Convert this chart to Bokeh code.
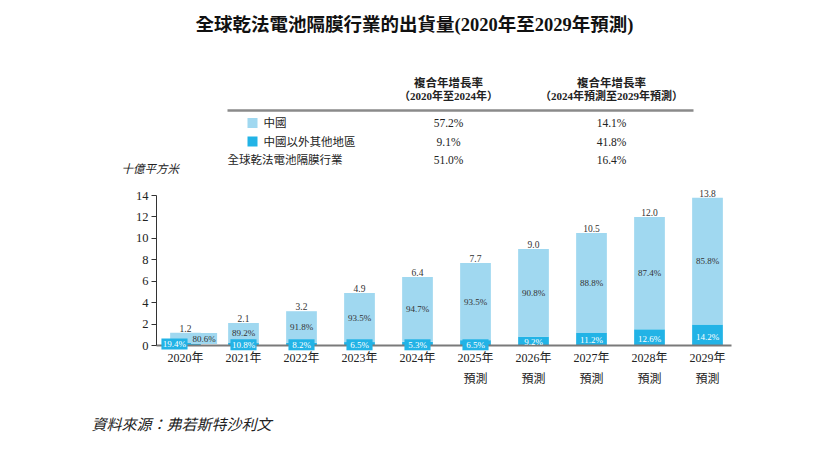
from bokeh.plotting import figure
from bokeh.models import ColumnDataSource, Range1d, Label, FixedTicker
from bokeh.core.properties import value
from bokeh.embed import file_html
from bokeh.resources import INLINE

# ---------------- data ----------------
years = ["2020年", "2021年", "2022年", "2023年", "2024年",
         "2025年", "2026年", "2027年", "2028年", "2029年"]
forecast_flag = [False, False, False, False, False, True, True, True, True, True]
totals = [1.2, 2.1, 3.2, 4.9, 6.4, 7.7, 9.0, 10.5, 12.0, 13.8]
china_share = [80.6, 89.2, 91.8, 93.5, 94.7, 93.5, 90.8, 88.8, 87.4, 85.8]
other_share = [19.4, 10.8, 8.2, 6.5, 5.3, 6.5, 9.2, 11.2, 12.6, 14.2]
y_ticks = [0, 2, 4, 6, 8, 10, 12, 14]

title_text = "全球乾法電池隔膜行業的出貨量(2020年至2029年預測)"
cagr_header = ["複合年增長率", "複合年增長率"]
cagr_period = ["（2020年至2024年）", "（2024年預測至2029年預測）"]
row_names = ["中國", "中國以外其他地區", "全球乾法電池隔膜行業"]
cagr_col1 = ["57.2%", "9.1%", "51.0%"]
cagr_col2 = ["14.1%", "41.8%", "16.4%"]
y_title = "十億平方米"
source_text = "資料來源：弗若斯特沙利文"
forecast_word = "預測"

LIGHT = "#a0d8f0"
DARK = "#22b3e6"
TXT = "#333333"
SERIF = "Liberation Serif, Noto Sans CJK TC"

# ---------------- geometry helpers (picture pixels -> data) ----------------
W, H = 815, 445
LEFT = 60
PX_X = 58.0            # pixels per category
PX_Y = 150.0 / 14.0    # pixels per unit
ORIGIN_X = 156.0       # pixel x of x = -0.5
ORIGIN_Y = 345.0       # pixel y of y = 0


def dx(px):
    return (px - ORIGIN_X) / PX_X - 0.5


def dy(py):
    return (ORIGIN_Y - py) / PX_Y


p = figure(width=W, height=H, output_backend="svg", toolbar_location=None,
           x_range=Range1d(dx(LEFT), dx(W)), y_range=Range1d(dy(H), dy(0)),
           min_border_left=LEFT, min_border_right=0, min_border_top=0,
           min_border_bottom=0, title=None)
p.outline_line_color = None
p.xgrid.visible = False
p.ygrid.visible = False
p.xaxis.visible = False
p.background_fill_color = "white"
p.border_fill_color = "white"

yax = p.yaxis[0]
yax.fixed_location = -0.5
yax.ticker = FixedTicker(ticks=y_ticks)
yax.bounds = (0, 14)
yax.axis_line_color = "#333333"
yax.axis_line_width = 1
yax.major_tick_line_color = "#333333"
yax.major_tick_out = 5
yax.major_tick_in = 0
yax.minor_tick_line_color = None
yax.major_label_text_font = SERIF
yax.major_label_text_font_size = "12.5px"
yax.major_label_text_color = "#222222"
yax.major_label_standoff = 3

# ---------------- bars ----------------
idx = list(range(len(years)))
other_vals = [t * s / 100.0 for t, s in zip(totals, other_share)]
src = ColumnDataSource(dict(x=idx, total=totals, other=other_vals,
                            total_txt=[f"{t:.1f}" for t in totals]))
BAR_W = 0.53
p.vbar(x="x", bottom=0, top="other", width=BAR_W, source=src,
       fill_color=DARK, line_color=None)
p.vbar(x="x", bottom="other", top="total", width=BAR_W, source=src,
       fill_color=LIGHT, line_color=None)

# x axis line
p.segment(x0=[-0.5], y0=[0], x1=[dx(731)], y1=[0], line_color="#7a7a7a", line_width=2)

# total labels
p.text(x="x", y="total", text="total_txt", source=src,
       text_align="center", text_baseline="bottom", y_offset=-1,
       text_font=value("Liberation Serif"), text_font_size="9.5px", text_color=TXT)

# share labels
c_x, c_y, c_txt = [], [], []
o_x, o_y, o_txt = [], [], []
box_x, box_y, box_c = [], [], []
for i, (t, o, cs, osh) in enumerate(zip(totals, other_vals, china_share, other_share)):
    if i == 0:
        cx, cy = i + 0.32, dy(338)
        box_x.append(cx); box_y.append(cy); box_c.append(LIGHT)
        ox, oy = i - 0.19, dy(343.5)
        box_x.append(ox); box_y.append(oy); box_c.append(DARK)
    else:
        cx, cy = i, (o + t) / 2.0
        if o < 0.7:
            ox, oy = i, dy(344.3)
            box_x.append(ox); box_y.append(oy); box_c.append(DARK)
        else:
            ox, oy = i, o * 0.4
    c_x.append(cx); c_y.append(cy); c_txt.append(f"{cs:.1f}%")
    o_x.append(ox); o_y.append(oy); o_txt.append(f"{osh:.1f}%")

p.rect(x=box_x, y=box_y, width=0.45, height=11 / PX_Y, fill_color=box_c, line_color=None)
p.text(x=c_x, y=c_y, text=c_txt, text_align="center", text_baseline="middle",
       text_font=value("Liberation Serif"), text_font_size="9px", text_color=TXT)
p.text(x=o_x, y=o_y, text=o_txt, text_align="center", text_baseline="middle",
       text_font=value("Liberation Serif"), text_font_size="9px", text_color="white")

# year labels
p.text(x=idx, y=[dy(357.7)] * len(idx), text=years, text_align="center",
       text_baseline="middle", text_font=value(SERIF), text_font_size="12px",
       text_color="#222222")
fx = [i for i, f in zip(idx, forecast_flag) if f]
p.text(x=fx, y=[dy(378)] * len(fx), text=[forecast_word] * len(fx), text_align="center",
       text_baseline="middle", text_font=value(SERIF), text_font_size="12px",
       text_color="#222222")

# ---------------- title ----------------
p.text(x=[dx(414)], y=[dy(24)], text=[title_text], text_align="center",
       text_baseline="middle", text_font=value(SERIF), text_font_size="18.5px",
       text_font_style="bold", text_color="#111111")

# ---------------- CAGR table ----------------
col1_x, col2_x = dx(448), dx(611)
p.text(x=[col1_x, col2_x], y=[dy(82)] * 2, text=cagr_header, text_align="center",
       text_baseline="middle", text_font=value(SERIF), text_font_size="11.5px",
       text_font_style="bold", text_color="#222222")
p.text(x=[col1_x, col2_x], y=[dy(95.5)] * 2, text=cagr_period, text_align="center",
       text_baseline="middle", text_font=value(SERIF), text_font_size="11px",
       text_font_style="bold", text_color="#222222")
p.segment(x0=[dx(227)], y0=[dy(110)], x1=[dx(693)], y1=[dy(110)],
          line_color="#8a8a8a", line_width=2.5)
row_y = [dy(122.5), dy(141), dy(159)]
p.rect(x=[dx(252), dx(252)], y=row_y[:2], width=10 / PX_X, height=10 / PX_Y,
       fill_color=[LIGHT, DARK], line_color=None)
p.text(x=[dx(263), dx(263), dx(227)], y=row_y, text=row_names, text_align="left",
       text_baseline="middle", text_font=value(SERIF), text_font_size="11.5px",
       text_color="#222222")
p.text(x=[col1_x] * 3, y=row_y, text=cagr_col1, text_align="center",
       text_baseline="middle", text_font=value(SERIF), text_font_size="11.5px",
       text_color="#222222")
p.text(x=[col2_x] * 3, y=row_y, text=cagr_col2, text_align="center",
       text_baseline="middle", text_font=value(SERIF), text_font_size="11.5px",
       text_color="#222222")

# ---------------- y title & source ----------------
p.add_layout(Label(x=dx(121), y=dy(168), text=y_title, text_align="left",
                   text_baseline="middle", text_font=SERIF, text_font_size="11.5px",
                   text_font_style="italic", text_color="#222222"))
p.add_layout(Label(x=dx(91), y=dy(424), text=source_text, text_align="left",
                   text_baseline="middle", text_font=SERIF, text_font_size="15px",
                   text_font_style="italic", text_color="#222222"))

open("out.html", "w").write(file_html(p, INLINE))
